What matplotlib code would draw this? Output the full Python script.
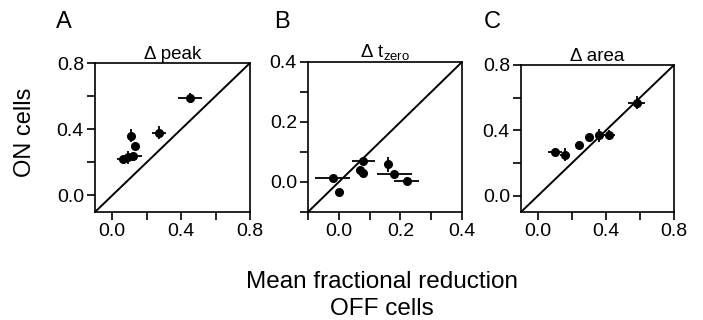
import matplotlib
matplotlib.use("Agg")
import matplotlib.pyplot as plt

plt.rcParams['font.family'] = ['Liberation Sans', 'DejaVu Sans']
plt.rcParams['mathtext.fontset'] = 'custom'
plt.rcParams['mathtext.rm'] = 'Liberation Sans'
plt.rcParams['mathtext.it'] = 'Liberation Sans'

# Panel A: delta peak
A_x = [0.45, 0.27, 0.11, 0.13, 0.06, 0.09, 0.12]
A_y = [0.59, 0.38, 0.36, 0.30, 0.22, 0.23, 0.24]
A_xerr = [0.07, 0.04, 0.02, 0.01, 0.03, 0.02, 0.05]
A_yerr = [0.03, 0.04, 0.04, 0.01, 0.01, 0.04, 0.02]

# Panel B: delta t_zero
B_x = [-0.02, 0.00, 0.08, 0.07, 0.08, 0.16, 0.18, 0.22]
B_y = [0.014, -0.032, 0.07, 0.04, 0.03, 0.06, 0.027, 0.002]
B_xerr = [0.057, 0.005, 0.036, 0.01, 0.01, 0.01, 0.057, 0.04]
B_yerr = [0.005, 0.005, 0.01, 0.01, 0.012, 0.025, 0.005, 0.005]

# Panel C: delta area
C_x = [0.10, 0.16, 0.24, 0.30, 0.36, 0.42, 0.58]
C_y = [0.27, 0.25, 0.31, 0.36, 0.37, 0.37, 0.57]
C_xerr = [0.04, 0.03, 0.02, 0.02, 0.02, 0.03, 0.05]
C_yerr = [0.01, 0.04, 0.01, 0.01, 0.04, 0.03, 0.04]

W, H = 703, 320
fig = plt.figure(figsize=(W / 100, H / 100), dpi=100)

def ax_at(l, r, t, b):
    return fig.add_axes([l / W, (H - b) / H, (r - l) / W, (b - t) / H])

panels = [
    dict(box=(95, 250, 63, 212), x=A_x, y=A_y, xe=A_xerr, ye=A_yerr,
         lim=(-0.1, 0.8), ticks=[0.0, 0.2, 0.4, 0.6, 0.8], labels=['0.0', '', '0.4', '', '0.8'],
         title='Δ peak', letter='A', lx=56),
    dict(box=(308, 462, 62, 212), x=B_x, y=B_y, xe=B_xerr, ye=B_yerr,
         lim=(-0.1, 0.4), ticks=[-0.1, 0.0, 0.1, 0.2, 0.3, 0.4], labels=['', '0.0', '', '0.2', '', '0.4'],
         title='Δ t$_{\\mathrm{zero}}$', letter='B', lx=274),
    dict(box=(521, 674, 65, 212), x=C_x, y=C_y, xe=C_xerr, ye=C_yerr,
         lim=(-0.1, 0.8), ticks=[0.0, 0.2, 0.4, 0.6, 0.8], labels=['0.0', '', '0.4', '', '0.8'],
         title='Δ area', letter='C', lx=484),
]

for p in panels:
    ax = ax_at(*p['box'])
    lo, hi = p['lim']
    ax.plot([lo, hi], [lo, hi], color='black', lw=1.4, zorder=1)
    ax.errorbar(p['x'], p['y'], xerr=p['xe'], yerr=p['ye'], fmt='o', color='black',
                ms=5.5, elinewidth=1.3, capsize=0, zorder=3)
    ax.set_xlim(lo, hi)
    ax.set_ylim(lo, hi)
    ax.set_xticks(p['ticks'])
    ax.set_xticklabels(p['labels'])
    ax.set_yticks(p['ticks'])
    ax.set_yticklabels(p['labels'])
    ax.tick_params(direction='out', length=6, width=1.2, labelsize=14, pad=2, colors='black')
    for s in ax.spines.values():
        s.set_linewidth(1.2)
    ax.set_title(p['title'], fontsize=13.5, pad=3)
    fig.text(p['lx'] / W, (H - 28) / H, p['letter'], fontsize=17, ha='left', va='baseline')

fig.text(25 / W, (H - 132) / H, 'ON cells', rotation=90, fontsize=17, ha='center', va='center')
fig.text(382 / W, (H - 288) / H, 'Mean fractional reduction', fontsize=17.5, ha='center', va='baseline')
fig.text(382 / W, (H - 315) / H, 'OFF cells', fontsize=17.5, ha='center', va='baseline')

fig.savefig('out.png', dpi=100)
